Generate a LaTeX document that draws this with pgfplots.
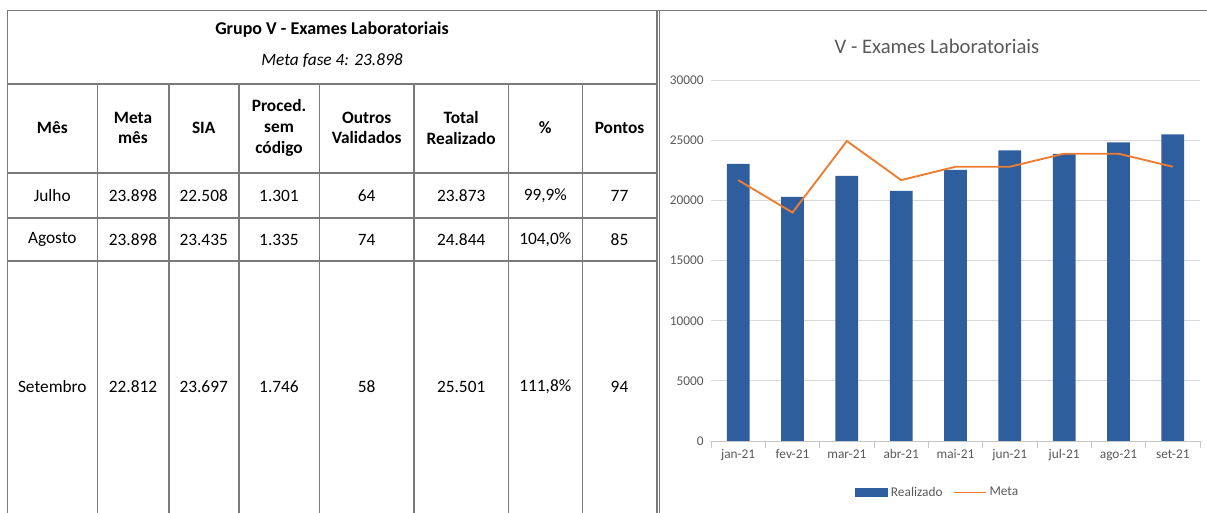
\documentclass[border=0pt]{standalone}
\usepackage{fontspec}
\setmainfont{Carlito}
\usepackage{pgfplots}
\pgfplotsset{compat=1.18}
\definecolor{barblue}{HTML}{2F5E9E}
\definecolor{metaorange}{HTML}{ED7D31}
\definecolor{txtgray}{HTML}{595959}
\definecolor{gridgray}{HTML}{D9D9D9}
\definecolor{rule}{HTML}{7A7A7A}

\begin{document}
\begin{tikzpicture}[x=0.75pt,y=0.75pt]
\useasboundingbox (0,0) rectangle (1207,513);

% ---- table ----
\begin{scope}[rule,line width=1.2pt]
\draw (7.3,0) -- (7.3,502.3) -- (1207,502.3);
\draw (656.7,0) -- (656.7,502.3);
\draw (659.5,0) -- (659.5,502.3);
\foreach \yy in {429,340,295,252} \draw (7.3,\yy) -- (656.7,\yy);
\foreach \xx in {97.3,168.7,238.7,319.3,414,508.3,582.3} \draw (\xx,0) -- (\xx,429);
\end{scope}

\tikzset{cell/.style={font=\fontsize{13}{15.5}\selectfont,align=center,inner sep=0pt}}
\node[cell,font=\fontsize{13.5}{16}\selectfont\bfseries] at (332,483) {Grupo V - Exames Laboratoriais};
\node[cell,font=\fontsize{13}{15.5}\selectfont\itshape] at (332,452) {Meta fase 4: 23.898};

\foreach \cx/\txt in {52.3/Mês, 133/{Meta\\mês}, 203.7/SIA, 279/{Proced.\\sem\\código},
  366.7/{Outros\\Validados}, 461.2/{Total\\Realizado}, 545.3/\%, 619.5/Pontos}
  \node[cell,font=\fontsize{13}{15.5}\selectfont\bfseries] at (\cx,385) {\txt};

\foreach \ry/\a/\b/\c/\d/\e/\f/\g/\h in {
  317.5/Julho/23.898/22.508/1.301/64/23.873/{99,9\%}/77,
  273.5/Agosto/23.898/23.435/1.335/74/24.844/{104,0\%}/85,
  126/Setembro/22.812/23.697/1.746/58/25.501/{111,8\%}/94}{
  \node[cell] at (52.3,\ry) {\a};
  \node[cell] at (133,\ry) {\b};
  \node[cell] at (203.7,\ry) {\c};
  \node[cell] at (279,\ry) {\d};
  \node[cell] at (366.7,\ry) {\e};
  \node[cell] at (461.2,\ry) {\f};
  \node[cell] at (545.3,\ry) {\g};
  \node[cell] at (619.5,\ry) {\h};
}

% ---- chart ----
\node[font=\fontsize{15.5}{18}\selectfont,text=txtgray] at (937,467) {V - Exames Laboratoriais};

\begin{axis}[
 at={(533.25pt,54pt)},anchor=south west,
 scale only axis,width=366.75pt,height=270.5pt,
 xmin=-0.5,xmax=8.5,ymin=0,ymax=30000,
 xtick={0,...,8},
 xticklabels={jan-21,fev-21,mar-21,abr-21,mai-21,jun-21,jul-21,ago-21,set-21},
 ytick={0,5000,...,30000},
 scaled y ticks=false,
 extra x ticks={-0.5,0.5,...,8.5},extra x tick labels={},
 extra x tick style={major tick length=5pt,tick align=outside,
   major tick style={draw=gray!45,line width=.6pt},grid=none},
 major tick length=0pt,
 ymajorgrids,grid style={gridgray,line width=.7pt},
 axis y line*=left,y axis line style={draw=none},
 axis x line*=bottom,x axis line style={gray!45,line width=.7pt,-},
 tick label style={font=\fontsize{10}{12}\selectfont,text=txtgray},
 yticklabel style={xshift=-2pt},
 xticklabel style={yshift=-3pt},
 /pgf/number format/1000 sep={},
 /pgf/number format/assume math mode=true,
 legend columns=2,
 legend style={at={(0.464,-0.143)},anchor=center,draw=none,fill=none,
   font=\fontsize{10}{12}\selectfont,text=txtgray,
   /tikz/every even column/.append style={column sep=6pt}},
]
\addplot[ybar,bar width=0.42,fill=barblue,draw=none,
 legend image code/.code={\fill[barblue] (0pt,-3.2pt) rectangle (25pt,3.2pt);}]
 coordinates {(0,23050) (1,20300) (2,22050) (3,20800) (4,22550)
  (5,24170) (6,23873) (7,24844) (8,25501)};
\addlegendentry{Realizado}
\addplot[metaorange,line width=1.4pt,mark=none,
 legend image code/.code={\draw[metaorange,line width=1.2pt] (0pt,0pt) -- (24pt,0pt);}]
 coordinates {(0,21700) (1,19000) (2,24950) (3,21700) (4,22812)
  (5,22812) (6,23898) (7,23898) (8,22812)};
\addlegendentry{Meta}
\end{axis}
\end{tikzpicture}
\end{document}
